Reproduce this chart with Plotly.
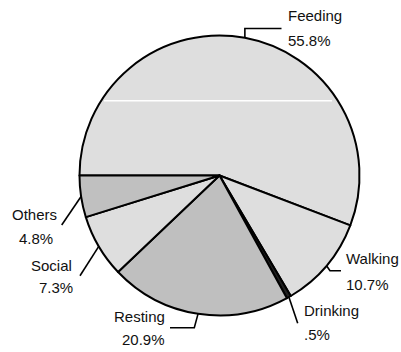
import math
import plotly.graph_objects as go

# ---- data ----
categories = ["Feeding", "Walking", "Drinking", "Resting", "Social", "Others"]
percentages = [55.8, 10.7, 0.5, 20.9, 7.3, 4.8]
slice_colors = ["#dedede", "#dedede", "#202020", "#bfbfbf", "#dedede", "#c0c0c0"]

W, H = 401, 352
CX, CY, R = 219.5, 175.5, 140.0
ROTATION = 270  # first slice starts at 9 o'clock, clockwise


def pct_text(v):
    s = f"{v:.1f}%"
    if s.startswith("0"):
        s = s[1:]
    return s


def px(x):
    return x / W


def py(y):
    return 1 - y / H


fig = go.Figure(
    go.Pie(
        labels=categories,
        values=percentages,
        sort=False,
        direction="clockwise",
        rotation=ROTATION,
        textinfo="none",
        hoverinfo="label+percent",
        marker=dict(colors=slice_colors, line=dict(color="black", width=2)),
        domain=dict(x=[px(CX - R), px(CX + R)], y=[py(CY + R), py(CY - R)]),
        showlegend=False,
    )
)

# label layout (pixel positions of text, leader elbows)
label_layout = {
    "Feeding": dict(name=(288.3, 15.8), pct=(288.3, 40.4), path=[(None, 28.5), (281.5, 28.5)]),
    "Walking": dict(name=(345.7, 258.0), pct=(345.7, 284.0), path=[(330.0, 270.7), (341.0, 270.7)]),
    "Drinking": dict(name=(304.0, 310.7), pct=(304.0, 334.0), path=[(297.7, 323.3)]),
    "Resting": dict(name=(114.0, 316.5), pct=(121.7, 339.7), path=[(194.3, 327.7), (170.0, 327.7)]),
    "Social": dict(name=(31.3, 265.7), pct=(39.0, 287.4), path=[(80.0, 275.7)]),
    "Others": dict(name=(11.7, 214.0), pct=(19.0, 238.7), path=[(61.7, 225.0)]),
}

total = sum(percentages)
cum = 0.0
shapes = []
annotations = []
font = dict(family="Arial, Liberation Sans, sans-serif", size=15, color="#111111")
for cat, v in zip(categories, percentages):
    mid = cum + v / 2
    cum += v
    ang = math.radians(ROTATION + 360 * mid / total)
    sx = CX + R * math.sin(ang)
    sy = CY - R * math.cos(ang)
    lay = label_layout[cat]
    pts = [(sx, sy)]
    for (x, y) in lay["path"]:
        pts.append((sx if x is None else x, y))
    path = "M " + " L ".join(f"{px(x):.5f},{py(y):.5f}" for x, y in pts)
    shapes.append(dict(type="path", xref="paper", yref="paper", path=path,
                       line=dict(color="black", width=1.6)))
    for key, txt in (("name", cat), ("pct", pct_text(v))):
        x, y = lay[key]
        annotations.append(dict(x=px(x), y=py(y), xref="paper", yref="paper",
                                text=txt, showarrow=False, xanchor="left", yanchor="middle",
                                borderpad=0, borderwidth=0, font=font))

# white seam across the large slice
shapes.append(dict(type="line", xref="paper", yref="paper",
                   x0=px(104), x1=px(332), y0=py(100.7), y1=py(100.7),
                   line=dict(color="white", width=1.5)))

fig.update_layout(
    width=W, height=H,
    margin=dict(l=0, r=0, t=0, b=0),
    paper_bgcolor="white", plot_bgcolor="white",
    shapes=shapes, annotations=annotations,
)

fig.write_html(
    "out.html",
    config={"displayModeBar": False},
    post_script="document.body.style.margin='0';document.body.style.overflow='hidden';",
)
